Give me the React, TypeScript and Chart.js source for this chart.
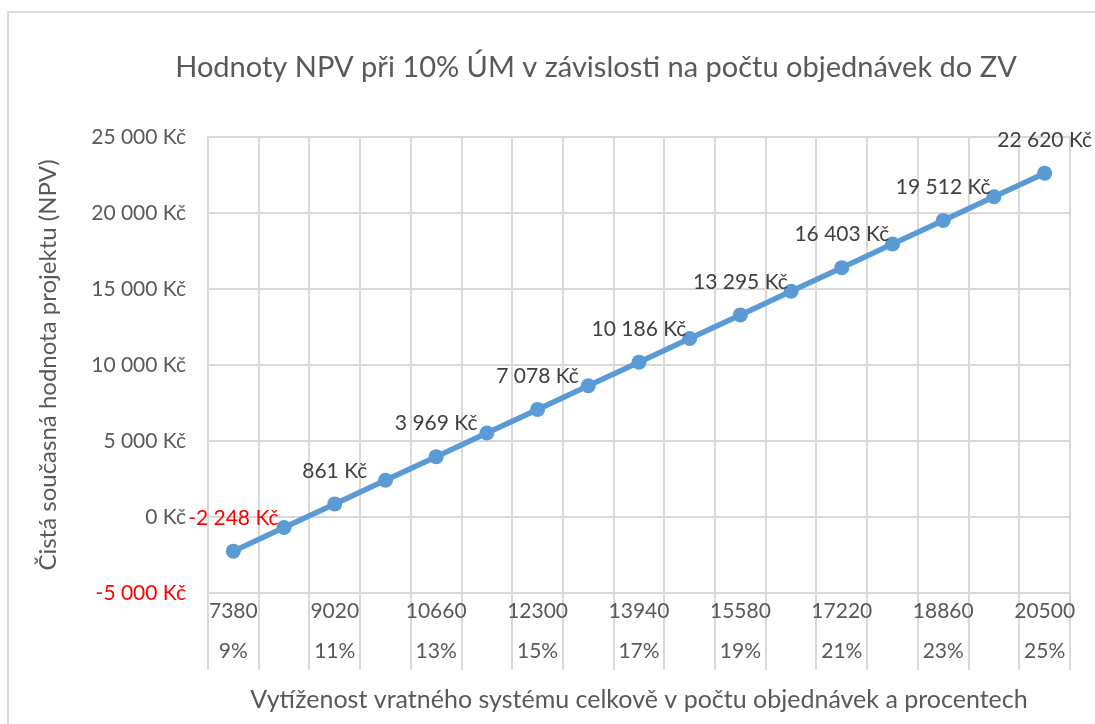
import React, { useEffect, useRef } from "react";
import { Chart, registerables } from "chart.js";

Chart.register(...registerables);

const chartTitle = "Hodnoty NPV při 10% ÚM v závislosti na počtu objednávek do ZV";
const yTitle = "Čistá současná hodnota projektu (NPV)";
const xTitle = "Vytíženost vratného systému celkově v počtu objednávek a procentech";

const orders = [7380, 8200, 9020, 9840, 10660, 11480, 12300, 13120, 13940, 14760, 15580, 16400, 17220, 18040, 18860, 19680, 20500];
const percents = ["9%", "10%", "11%", "12%", "13%", "14%", "15%", "16%", "17%", "18%", "19%", "20%", "21%", "22%", "23%", "24%", "25%"];
const npv = [-2248, -693, 861, 2415, 3969, 5524, 7078, 8632, 10186, 11741, 13295, 14849, 16403, 17958, 19512, 21066, 22620];
const showLabel = [true, false, true, false, true, false, true, false, true, false, true, false, true, false, true, false, true];

const yMin = -5000;
const yMax = 25000;
const yStep = 5000;

const FONT = 'Lato, "Open Sans", sans-serif';
const GRAY = "#595959";
const GRID = "#d9d9d9";
const RED = "#ff0000";

function fmtKc(n: number): string {
  const s = Math.abs(Math.round(n)).toString().replace(/\B(?=(\d{3})+(?!\d))/g, " ");
  return (n < 0 ? "-" : "") + s + " Kč";
}

const decorPlugin = {
  id: "decor",
  beforeDraw(chart: any) {
    const ctx = chart.ctx;
    ctx.save();
    ctx.fillStyle = "#ffffff";
    ctx.fillRect(0, 0, chart.width, chart.height);
    ctx.strokeStyle = GRID;
    ctx.lineWidth = 2;
    ctx.beginPath();
    ctx.moveTo(8, chart.height + 5);
    ctx.lineTo(8, 12);
    ctx.lineTo(chart.width + 5, 12);
    ctx.stroke();
    ctx.fillStyle = GRAY;
    ctx.font = `29px ${FONT}`;
    ctx.textAlign = "center";
    ctx.textBaseline = "middle";
    ctx.fillText(chartTitle, 596, 68);
    ctx.restore();
  },
  afterDatasetsDraw(chart: any) {
    const ctx = chart.ctx;
    const meta = chart.getDatasetMeta(0);
    ctx.save();
    ctx.font = `21px ${FONT}`;
    ctx.textAlign = "center";
    ctx.textBaseline = "middle";
    npv.forEach((v, i) => {
      if (!showLabel[i]) return;
      const el = meta.data[i];
      ctx.fillStyle = v < 0 ? RED : "#404040";
      ctx.fillText(fmtKc(v), el.x, el.y - 33);
    });
    ctx.restore();
  },
};

export default function App() {
  const ref = useRef<HTMLCanvasElement>(null);
  useEffect(() => {
    document.body.style.margin = "0";
    const chart = new Chart(ref.current!, {
      type: "line",
      data: {
        labels: orders.map(String),
        datasets: [
          {
            data: npv,
            borderColor: "#5b9bd5",
            backgroundColor: "#5b9bd5",
            borderWidth: 5.5,
            pointRadius: 7.5,
            pointHoverRadius: 7.5,
            pointBorderWidth: 0,
            tension: 0,
          },
        ],
      },
      options: {
        responsive: false,
        animation: false,
        layout: { padding: { top: 137, right: 25, left: 0, bottom: 0 } },
        plugins: { legend: { display: false }, tooltip: { enabled: false }, title: { display: false } },
        scales: {
          x: {
            offset: true,
            afterFit: (s: any) => {
              s.height = 131;
            },
            grid: { offset: true, color: GRID, lineWidth: 2, tickLength: 77, drawTicks: true, tickColor: GRID },
            border: { color: GRID, width: 2 },
            ticks: {
              autoSkip: false,
              maxRotation: 0,
              minRotation: 0,
              padding: -79,
              color: GRAY,
              font: { family: FONT, size: 21, lineHeight: 40 / 21 },
              callback: (_v: any, i: number) => (i % 2 === 0 ? [String(orders[i]), percents[i]] : ""),
            },
            title: {
              display: true,
              text: xTitle,
              color: GRAY,
              font: { family: FONT, size: 25 },
              padding: { top: 0, bottom: 9 },
            },
          },
          y: {
            min: yMin,
            max: yMax,
            afterFit: (s: any) => {
              s.width = 208;
            },
            grid: { color: GRID, lineWidth: 2, drawTicks: false },
            border: { color: GRID, width: 2 },
            ticks: {
              stepSize: yStep,
              padding: 22,
              color: (c: any) => (c.tick && c.tick.value < 0 ? RED : GRAY),
              font: { family: FONT, size: 21 },
              callback: (v: any) => fmtKc(Number(v)),
            },
            title: {
              display: true,
              text: yTitle,
              color: GRAY,
              font: { family: FONT, size: 24 },
              padding: { top: 34, bottom: 0 },
            },
          },
        },
      },
      plugins: [decorPlugin],
    });
    return () => chart.destroy();
  }, []);
  return <canvas ref={ref} width={1095} height={724} />;
}
